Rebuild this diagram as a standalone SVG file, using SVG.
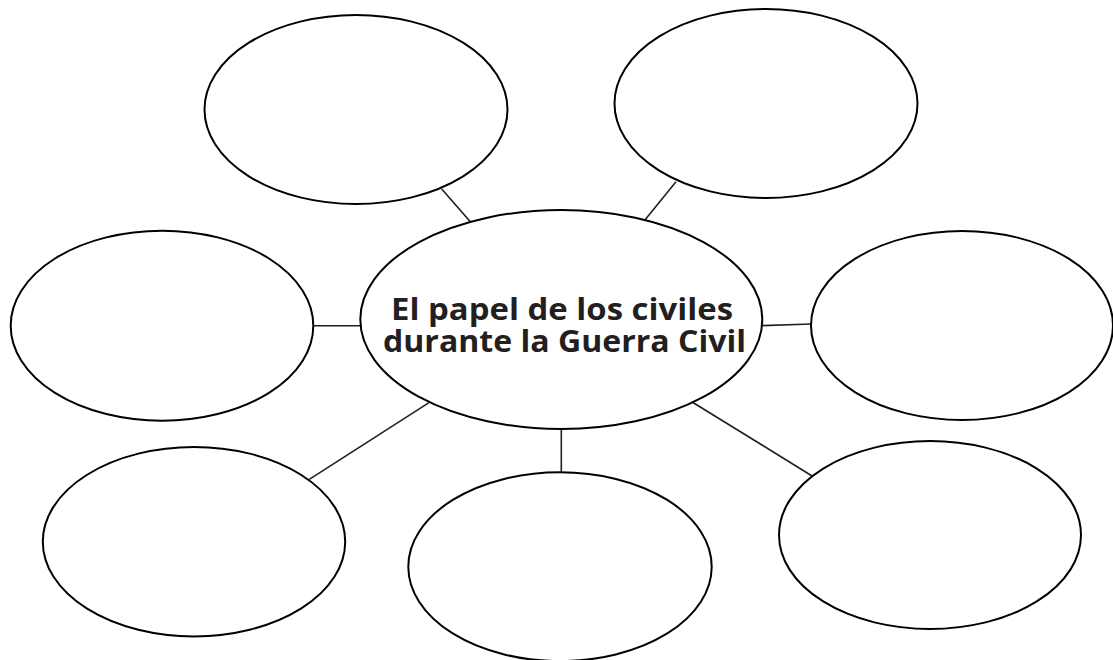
<svg xmlns="http://www.w3.org/2000/svg" width="1113" height="660" viewBox="0 0 1113 660">
  <style>
    .bubble { fill: #ffffff; stroke: #000000; stroke-width: 2; }
    .link { stroke: #231f20; stroke-width: 1.6; fill: none; }
    .title { font-family: "Open Sans", "Liberation Sans", Arial, sans-serif; font-weight: 700; font-size: 30px; fill: #231f20; text-anchor: middle; }
  </style>
  <rect width="1113" height="660" fill="#ffffff"/>
  <g id="connectors">
    <line class="link" x1="441.7" y1="189" x2="471" y2="222.5"/>
    <line class="link" x1="676" y1="181.7" x2="644.3" y2="220.7"/>
    <line class="link" x1="313" y1="325.7" x2="360.5" y2="325.7"/>
    <line class="link" x1="761" y1="325.7" x2="811.5" y2="324"/>
    <line class="link" x1="309.3" y1="479.3" x2="429" y2="402.7"/>
    <line class="link" x1="561.3" y1="428.5" x2="561.3" y2="472.3"/>
    <line class="link" x1="693.3" y1="402.7" x2="811.7" y2="475.7"/>
  </g>
  <g id="node-top-left">
    <ellipse class="bubble" cx="356" cy="109.5" rx="151.5" ry="94.5"/>
  </g>
  <g id="node-top-right">
    <ellipse class="bubble" cx="766" cy="103.5" rx="151.5" ry="94.5"/>
  </g>
  <g id="node-middle-left">
    <ellipse class="bubble" cx="162" cy="325.7" rx="151.3" ry="95"/>
  </g>
  <g id="node-middle-right">
    <ellipse class="bubble" cx="962" cy="325.5" rx="151" ry="94.5"/>
  </g>
  <g id="node-bottom-left">
    <ellipse class="bubble" cx="194" cy="541.7" rx="151.2" ry="94.7"/>
  </g>
  <g id="node-bottom-center">
    <ellipse class="bubble" cx="560" cy="566.7" rx="151.7" ry="94.4"/>
  </g>
  <g id="node-bottom-right">
    <ellipse class="bubble" cx="930" cy="535" rx="151" ry="94"/>
  </g>
  <g id="node-center">
    <ellipse class="bubble" cx="561.3" cy="319.5" rx="201" ry="109.5"/>
    <text class="title" x="562" y="319.5" textLength="342" lengthAdjust="spacingAndGlyphs">El papel de los civiles</text>
    <text class="title" x="564.5" y="351.5" textLength="363" lengthAdjust="spacingAndGlyphs">durante la Guerra Civil</text>
  </g>
</svg>
